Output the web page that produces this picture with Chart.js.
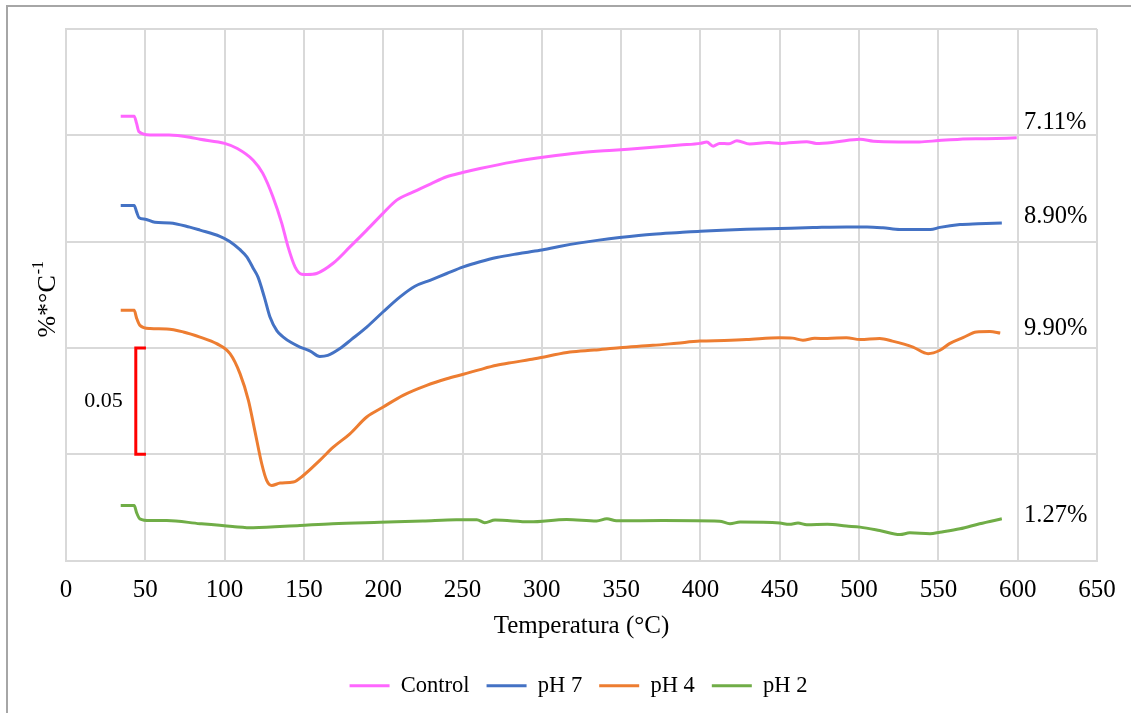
<!DOCTYPE html>
<html>
<head>
<meta charset="utf-8">
<script src="https://cdn.jsdelivr.net/npm/chart.js@4"></script>
<style>
  html, body { margin: 0; padding: 0; background: #fff; }
  #wrap { width: 1131px; height: 713px; }
</style>
</head>
<body>
<div id="wrap"><canvas id="dtg" width="1131" height="713"></canvas></div>
<script>
// DTG curves (stacked with offsets), x = temperature in °C
const controlT = [34.5, 43, 44.5, 46, 53, 65, 78, 84.5, 100, 108, 118, 124, 130.5, 136, 140, 144.4, 148.6, 152, 158, 168.4, 179, 189.6, 200, 208.5, 219, 230, 240, 250, 261, 282, 303, 324, 345, 366, 387, 400, 404, 408, 412, 418, 423, 431, 443, 450, 467, 473, 485, 500.6, 509, 525, 538, 550, 563.6, 580, 599.4];
const controlY = [0.2090, 0.2090, 0.2056, 0.2017, 0.2001, 0.2001, 0.1991, 0.1981, 0.1962, 0.1938, 0.1883, 0.1822, 0.1710, 0.1587, 0.1475, 0.1381, 0.1346, 0.1345, 0.1350, 0.1398, 0.1475, 0.1554, 0.1634, 0.1695, 0.1734, 0.1772, 0.1805, 0.1825, 0.1844, 0.1875, 0.1899, 0.1918, 0.1930, 0.1941, 0.1954, 0.1962, 0.1968, 0.1949, 0.1962, 0.1960, 0.1974, 0.1959, 0.1966, 0.1962, 0.1970, 0.1962, 0.1968, 0.1981, 0.1972, 0.1969, 0.1969, 0.1975, 0.1982, 0.1984, 0.1988];

const ph7T = [34.5, 43, 44.5, 46, 50, 56, 65.6, 78, 84.5, 97, 103, 109.7, 114, 118, 121, 125, 128.6, 133, 137, 142, 147.5, 154, 160, 165, 172.7, 180, 189.6, 200, 210.6, 220, 229.5, 240, 250.5, 261, 271.5, 285, 298.8, 311, 324, 336, 349, 370, 387, 400, 429, 450, 471, 492, 505, 515, 525.8, 534, 545, 551, 563.6, 575, 590];
const ph7Y = [0.1670, 0.1670, 0.1640, 0.1613, 0.1605, 0.1591, 0.1588, 0.1568, 0.1554, 0.1525, 0.1502, 0.1462, 0.1428, 0.1375, 0.1334, 0.1240, 0.1145, 0.1080, 0.1051, 0.1025, 0.1004, 0.0985, 0.0960, 0.0965, 0.0997, 0.1040, 0.1098, 0.1170, 0.1240, 0.1290, 0.1318, 0.1350, 0.1381, 0.1405, 0.1425, 0.1443, 0.1459, 0.1477, 0.1494, 0.1507, 0.1519, 0.1535, 0.1543, 0.1549, 0.1558, 0.1562, 0.1566, 0.1569, 0.1569, 0.1565, 0.1557, 0.1557, 0.1557, 0.1567, 0.1580, 0.1584, 0.1588];

const ph4T = [34.5, 43, 44.5, 46.6, 53, 63.5, 74, 84.5, 95, 103.4, 109.7, 115, 119, 123.4, 126.5, 129.7, 135, 143.3, 149.6, 160, 168.5, 179, 189.6, 200, 212.5, 227.4, 240, 250.5, 261, 271.5, 282, 292.5, 303, 317.7, 333, 349, 370, 385, 399.7, 415, 429, 450, 458, 464.6, 472, 480, 492, 500.6, 513, 521, 534, 543.5, 551, 557, 565.5, 574, 582.5, 589];
const ph4Y = [0.1177, 0.1177, 0.1140, 0.1106, 0.1091, 0.1089, 0.1075, 0.1051, 0.1020, 0.0973, 0.0879, 0.0753, 0.0612, 0.0455, 0.0377, 0.0353, 0.0364, 0.0369, 0.0400, 0.0471, 0.0533, 0.0596, 0.0675, 0.0722, 0.0777, 0.0824, 0.0855, 0.0876, 0.0898, 0.0918, 0.0932, 0.0945, 0.0960, 0.0981, 0.0990, 0.1001, 0.1012, 0.1022, 0.1032, 0.1035, 0.1039, 0.1048, 0.1046, 0.1036, 0.1045, 0.1044, 0.1048, 0.1039, 0.1044, 0.1032, 0.1004, 0.0973, 0.0989, 0.1020, 0.1048, 0.1075, 0.1077, 0.1070];

const ph2T = [34.5, 43, 44.5, 46.6, 53, 63.5, 84.5, 105, 118, 147.5, 168, 198, 225, 246, 259, 264, 270.5, 292.5, 315.6, 334.6, 341, 347, 376.5, 412, 418.6, 425, 450, 456, 461.5, 467, 480, 492, 500.6, 513, 525.8, 532, 544.7, 551, 563.6, 576, 590];
const ph2Y = [0.0259, 0.0259, 0.0225, 0.0196, 0.0188, 0.0188, 0.0173, 0.0160, 0.0154, 0.0165, 0.0173, 0.0180, 0.0186, 0.0192, 0.0192, 0.0178, 0.0190, 0.0182, 0.0193, 0.0186, 0.0196, 0.0187, 0.0188, 0.0185, 0.0173, 0.0181, 0.0176, 0.0170, 0.0176, 0.0168, 0.0170, 0.0162, 0.0157, 0.0141, 0.0122, 0.0130, 0.0126, 0.0133, 0.0149, 0.0173, 0.0196];

const seriesNames = ["Control", "pH 7", "pH 4", "pH 2"];
const seriesColors = ["#FF66FF", "#4472C4", "#ED7D31", "#70AD47"];

// residual mass labels at the right side
const massLabels = ["7.11%", "8.90%", "9.90%", "1.27%"];
const massLabelY = [0.2062, 0.1616, 0.1091, 0.0212];
const massLabelX = 604;

// scale bar
const barTop = 0.10, barBottom = 0.05, barX = 44, barTickX = 50.4;

const serif = "'Liberation Serif', 'Times New Roman', serif";

function pts(xs, ys) {
  return xs.map((x, i) => ({ x: x, y: ys[i] }));
}

const extras = {
  id: "extras",
  afterDraw(chart) {
    const ctx = chart.ctx;
    const xs = chart.scales.x, ys = chart.scales.y;
    ctx.save();

    // outer frame (only left/top edges show in the picture)
    ctx.strokeStyle = "#a6a6a6";
    ctx.lineWidth = 2;
    ctx.strokeRect(7, 6, 1300, 900);

    // residual mass labels
    ctx.fillStyle = "#000";
    ctx.font = "24.5px " + serif;
    ctx.textAlign = "left";
    ctx.textBaseline = "middle";
    massLabels.forEach((t, i) => {
      ctx.fillText(t, xs.getPixelForValue(massLabelX), ys.getPixelForValue(massLabelY[i]));
    });

    // red scale bracket
    ctx.strokeStyle = "#FF0000";
    ctx.lineWidth = 3;
    ctx.beginPath();
    ctx.moveTo(xs.getPixelForValue(barTickX), ys.getPixelForValue(barTop));
    ctx.lineTo(xs.getPixelForValue(barX), ys.getPixelForValue(barTop));
    ctx.lineTo(xs.getPixelForValue(barX), ys.getPixelForValue(barBottom));
    ctx.lineTo(xs.getPixelForValue(barTickX), ys.getPixelForValue(barBottom));
    ctx.stroke();

    ctx.font = "22px " + serif;
    ctx.textAlign = "right";
    ctx.fillText("0.05", xs.getPixelForValue(barX) - 13, ys.getPixelForValue((barTop + barBottom) / 2));

    // y axis title with superscript
    const main = "%*°C", sup = "-1";
    ctx.font = "26px " + serif;
    const w1 = ctx.measureText(main).width;
    ctx.font = "16px " + serif;
    const w2 = ctx.measureText(sup).width;
    const cy = (chart.chartArea.top + chart.chartArea.bottom) / 2 + 5;
    ctx.translate(46, cy);
    ctx.rotate(-Math.PI / 2);
    ctx.textAlign = "left";
    ctx.textBaseline = "alphabetic";
    const start = -(w1 + w2) / 2;
    ctx.font = "26px " + serif;
    ctx.fillText(main, start, 9);
    ctx.font = "16px " + serif;
    ctx.fillText(sup, start + w1 + 1, -3);
    ctx.restore();
  }
};

const data = [pts(controlT, controlY), pts(ph7T, ph7Y), pts(ph4T, ph4Y), pts(ph2T, ph2Y)];

new Chart(document.getElementById("dtg"), {
  type: "line",
  data: {
    datasets: seriesNames.map((name, i) => ({
      label: name,
      data: data[i],
      borderColor: seriesColors[i],
      backgroundColor: seriesColors[i],
      borderWidth: 3,
      pointRadius: 0,
      pointStyle: "line",
      cubicInterpolationMode: "monotone",
      fill: false
    }))
  },
  options: {
    responsive: false,
    animation: false,
    layout: { padding: { top: 29, right: 34, left: 60, bottom: 6 } },
    plugins: {
      legend: {
        position: "bottom",
        labels: {
          usePointStyle: true,
          pointStyle: "line",
          pointStyleWidth: 40,
          color: "#000",
          padding: 17,
          font: { family: serif, size: 22.5 }
        }
      },
      tooltip: { enabled: false }
    },
    scales: {
      x: {
        type: "linear",
        min: 0,
        max: 650,
        ticks: { stepSize: 50, color: "#000", padding: 15, font: { family: serif, size: 25 } },
        grid: { color: "#d9d9d9", lineWidth: 2, drawTicks: false },
        border: { color: "#d9d9d9", width: 2 },
        title: {
          display: true,
          text: "Temperatura (°C)",
          color: "#000",
          font: { family: serif, size: 25 },
          padding: { top: 0, bottom: 16 }
        },
        afterFit(s) { s.height = 97; }
      },
      y: {
        min: 0,
        max: 0.25,
        ticks: { stepSize: 0.05, display: false },
        grid: { color: "#d9d9d9", lineWidth: 2, drawTicks: false },
        border: { color: "#d9d9d9", width: 2 },
        afterFit(s) { s.width = 6; }
      }
    }
  },
  plugins: [extras]
});
</script>
</body>
</html>
